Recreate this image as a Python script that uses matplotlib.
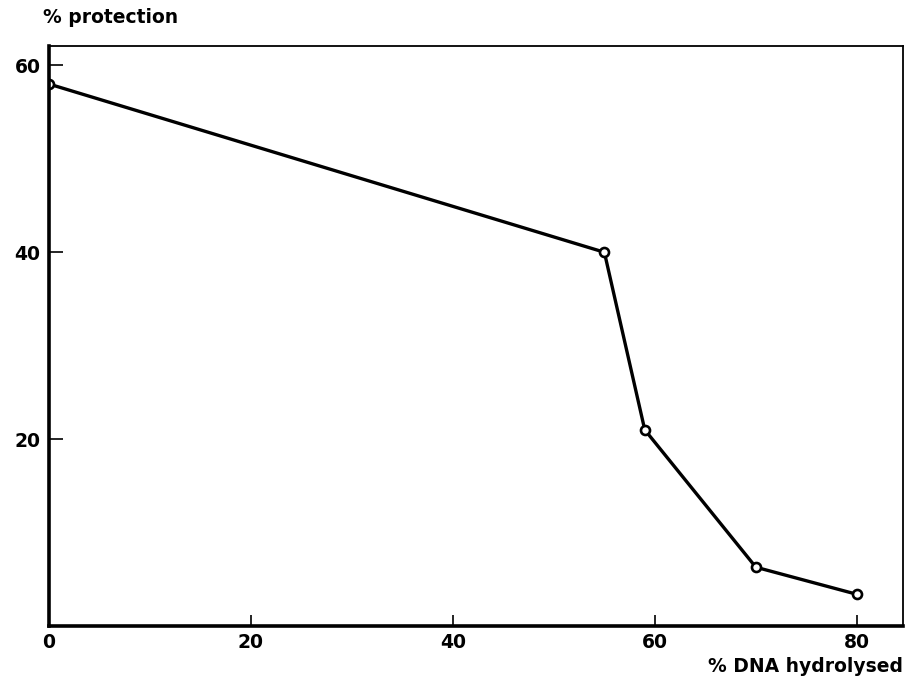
import matplotlib
matplotlib.use('Agg')
import matplotlib.pyplot as plt

matplotlib.rcParams['font.family'] = 'DejaVu Sans'
matplotlib.rcParams['font.weight'] = 'bold'

# 数据
dna_hydrolysed = [0, 55, 59, 70, 80]
protection = [58, 40, 21, 6.3, 3.4]
x_ticks = [0, 20, 40, 60, 80]
y_ticks = [20, 40, 60]

fig = plt.figure(figsize=(9.06, 6.82), dpi=100)
ax = fig.add_axes([0.054, 0.082, 0.943, 0.851])

ax.plot(dna_hydrolysed, protection, color='black', linewidth=2.4,
        marker='o', markersize=6.5, markerfacecolor='white',
        markeredgecolor='black', markeredgewidth=1.9)

ax.set_xlim(0, 84.6)
ax.set_ylim(0, 62.1)
ax.set_xticks(x_ticks)
ax.set_yticks(y_ticks)
ax.tick_params(axis='x', direction='in', length=8, width=1.2, labelsize=13.5, pad=5)
ax.tick_params(axis='y', direction='in', length=10, width=1.2, labelsize=13.5, pad=6)

ax.spines['bottom'].set_linewidth(2.6)
ax.spines['left'].set_linewidth(2.6)
ax.spines['top'].set_linewidth(1.3)
ax.spines['right'].set_linewidth(1.3)

fig.text(0.048, 0.975, '% protection', fontsize=13.5, fontweight='bold',
         ha='left', va='center')
fig.text(0.997, 0.022, '% DNA hydrolysed', fontsize=13.5, fontweight='bold',
         ha='right', va='center')

fig.savefig('out.png', dpi=100, facecolor='white')
